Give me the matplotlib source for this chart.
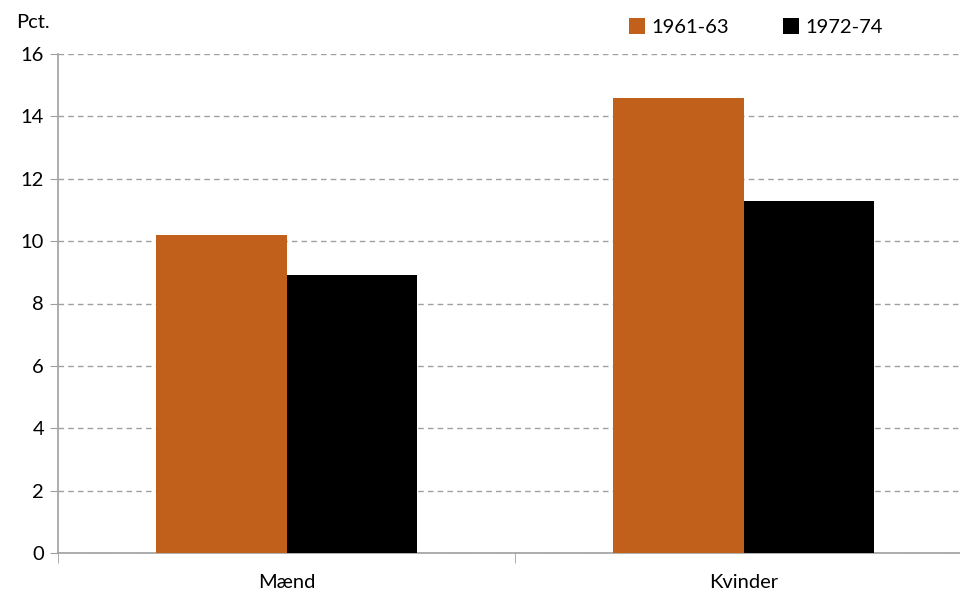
import matplotlib
matplotlib.use("Agg")
import matplotlib.pyplot as plt
import numpy as np

# data
categories = ["Mænd", "Kvinder"]
series_names = ["1961-63", "1972-74"]
values_6163 = [10.2, 14.6]
values_7274 = [8.9, 11.3]
y_ticks = [0, 2, 4, 6, 8, 10, 12, 14, 16]

plt.rcParams["font.family"] = ["Lato", "DejaVu Sans"]

fig = plt.figure(figsize=(9.6, 5.93), dpi=100)
# plot area runs a little past the right edge, like the original
ax = fig.add_axes([58 / 960, 1 - 553 / 593, 914 / 960, (553 - 54) / 593])

x = np.arange(len(categories))
w = 0.286
ax.bar(x - w / 2, values_6163, width=w, color="#C0601A", label=series_names[0], zorder=3)
ax.bar(x + w / 2, values_7274, width=w, color="#000000", label=series_names[1], zorder=3)

ax.set_xlim(-0.5, len(categories) - 0.5)
ax.set_ylim(0, 16)
ax.set_yticks(y_ticks)
ax.set_yticklabels([str(t) for t in y_ticks], fontsize=14.5)
ax.yaxis.grid(True, linestyle=(0, (4, 3)), color="#A0A0A0", linewidth=1, zorder=0)

# category labels, ticks at boundaries
ax.set_xticks(x)
ax.set_xticklabels(categories, fontsize=14.5)
ax.tick_params(axis="x", which="major", length=0, pad=15)
ax.set_xticks(np.arange(-0.5, len(categories), 1.0), minor=True)
ax.tick_params(axis="x", which="minor", length=7, color="#A0A0A0", direction="out")
ax.tick_params(axis="y", length=6, color="#A0A0A0", direction="out", pad=4)

for side in ["top", "right"]:
    ax.spines[side].set_visible(False)
for side in ["left", "bottom"]:
    ax.spines[side].set_color("#A0A0A0")
    ax.spines[side].set_linewidth(1.2)

fig.text(16 / 960, 1 - 22 / 593, "Pct.", fontsize=14.5, va="center", ha="left")

fig.legend(loc="center left", bbox_to_anchor=(621 / 960, 1 - 27 / 593), ncol=2,
           frameon=False, fontsize=14.5, handlelength=0.8, handleheight=0.8,
           handletextpad=0.3, columnspacing=2.7, borderaxespad=0)

fig.savefig("out.png", dpi=100)
